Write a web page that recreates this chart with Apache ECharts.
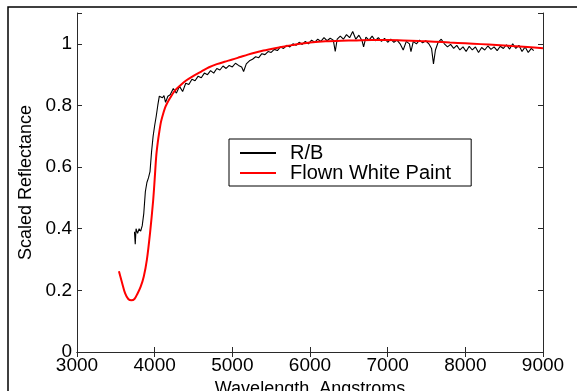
<!DOCTYPE html>
<html>
<head>
<meta charset="utf-8">
<script src="https://cdn.jsdelivr.net/npm/echarts@6/dist/echarts.min.js"></script>
<style>
  html, body { margin: 0; padding: 0; background: #fff; }
  #chart { width: 577px; height: 391px; }
</style>
</head>
<body>
<div id="chart"></div>
<script>
// R/B measured spectrum (noisy black trace)
var rbWave = [3740, 3750, 3760, 3780, 3800, 3820, 3840, 3860, 3880, 3900, 3920, 3940, 3960, 3980, 4000, 4020, 4040, 4060, 4080, 4100, 4120, 4140, 4170,
  4200, 4240, 4280, 4320, 4360, 4400, 4440, 4480, 4520, 4560, 4600, 4640, 4680, 4720, 4760, 4800, 4840, 4880, 4920, 4960, 5000, 5040, 5080, 5120, 5145, 5180,
  5220, 5260, 5300, 5340, 5380, 5420, 5460, 5500, 5540, 5580, 5620, 5660, 5700, 5740, 5780, 5820, 5860, 5900, 5940, 5980, 6020, 6060, 6100, 6140, 6180, 6220,
  6260, 6300, 6325, 6350, 6390, 6430, 6470, 6510, 6550, 6590, 6630, 6670, 6690, 6720, 6760, 6800, 6840, 6880, 6920, 6960, 7000, 7040, 7080, 7120, 7160, 7200,
  7240, 7280, 7300, 7330, 7370, 7410, 7450, 7490, 7530, 7565, 7590, 7615, 7650, 7690, 7730, 7770, 7810, 7850, 7890, 7930, 7970, 8010, 8050, 8090, 8130, 8170,
  8210, 8250, 8290, 8330, 8370, 8410, 8450, 8490, 8530, 8570, 8610, 8650, 8690, 8730, 8770, 8810, 8850, 8880];
var rbValue = [0.39, 0.35, 0.40, 0.385, 0.40, 0.392, 0.41, 0.45, 0.52, 0.55, 0.565, 0.585, 0.65, 0.70, 0.735, 0.765, 0.80, 0.83, 0.835, 0.825, 0.832, 0.81, 0.83,
  0.835, 0.855, 0.84, 0.862, 0.845, 0.872, 0.868, 0.885, 0.88, 0.895, 0.89, 0.905, 0.90, 0.913, 0.905, 0.92, 0.915, 0.928, 0.92, 0.93, 0.925, 0.937, 0.93, 0.925, 0.91, 0.935,
  0.945, 0.95, 0.958, 0.955, 0.968, 0.965, 0.975, 0.972, 0.982, 0.978, 0.99, 0.985, 0.995, 0.99, 1.0, 0.995, 1.005, 0.998, 1.008, 1.0, 1.012, 1.005, 1.015, 1.008, 1.02, 1.01,
  1.018, 1.012, 0.975, 1.015, 1.025, 1.015, 1.03, 1.02, 1.04, 1.015, 1.028, 1.01, 0.99, 1.022, 1.012, 1.025, 1.01, 1.02, 1.008, 1.018, 1.005, 1.015, 1.005, 1.012, 1.0, 0.98,
  1.008, 1.0, 0.975, 1.008, 1.0, 1.012, 1.003, 1.01, 1.0, 0.985, 0.935, 0.98, 1.005, 1.015, 1.0, 0.99, 0.998, 0.985, 0.995, 0.98, 0.99, 0.975, 0.992, 0.98, 0.99, 0.972,
  0.988, 0.98, 0.993, 0.982, 0.99, 0.978, 0.992, 0.985, 0.997, 0.983, 1.0, 0.985, 0.995, 0.975, 0.99, 0.972, 0.985, 0.978];

// Flown White Paint (smooth red curve)
var paintWave = [3540, 3580, 3620, 3660, 3700, 3740, 3780, 3820, 3860, 3900, 3940, 3980, 4000, 4020, 4040, 4060, 4080, 4100, 4130, 4160, 4200, 4260, 4330,
  4400, 4500, 4600, 4700, 4800, 4900, 5000, 5100, 5200, 5300, 5400, 5500, 5600, 5700, 5800, 5900, 6000, 6200, 6400, 6600, 6800, 7000, 7200, 7400, 7600,
  7800, 8000, 8200, 8400, 8600, 8800, 9000];
var paintValue = [0.262, 0.225, 0.19, 0.172, 0.168, 0.172, 0.19, 0.212, 0.245, 0.30, 0.385, 0.49, 0.56, 0.635, 0.68, 0.715, 0.745, 0.765, 0.79, 0.807, 0.825, 0.848, 0.865,
  0.88, 0.896, 0.91, 0.924, 0.934, 0.942, 0.949, 0.957, 0.965, 0.972, 0.978, 0.983, 0.988, 0.993, 0.997, 1.001, 1.004, 1.008, 1.01, 1.011, 1.012, 1.012, 1.011, 1.009, 1.007,
  1.004, 1.002, 0.999, 0.996, 0.993, 0.99, 0.986];

var xTicks = { min: 3000, max: 9000, step: 1000 };
var yTicks = { min: 0, max: 1.1, step: 0.2 };

function pairs(xs, ys) {
  var out = [];
  for (var i = 0; i < xs.length; i++) out.push([xs[i], ys[i]]);
  return out;
}

var font = '"Liberation Sans", Arial, Helvetica, sans-serif';
var axisColor = '#2a2a2a';

var chart = echarts.init(document.getElementById('chart'));

var option = {
  backgroundColor: '#fff',
  animation: false,
  textStyle: { fontFamily: font, color: '#000' },
  grid: { left: 77, right: 34, top: 13, bottom: 39, containLabel: false, outerBoundsMode: 'none' },
  graphic: [{
    type: 'rect',
    shape: { x: 8, y: 7, width: 700, height: 500 },
    style: { fill: 'none', stroke: '#000', lineWidth: 1.5 },
    silent: true
  }],
  legend: {
    orient: 'vertical',
    left: 229,
    top: 139,
    padding: [4, 20, 3, 11],
    itemGap: 0,
    itemWidth: 36,
    itemHeight: 2,
    icon: 'rect',
    backgroundColor: '#fff',
    borderColor: '#000',
    borderWidth: 1,
    borderRadius: 0,
    textStyle: { fontFamily: font, fontSize: 20, lineHeight: 19, color: '#000', padding: [0, 0, 0, 9] },
    data: ['R/B', 'Flown White Paint']
  },
  xAxis: [{
    type: 'value',
    position: 'bottom',
    min: xTicks.min, max: xTicks.max, interval: xTicks.step,
    name: 'Wavelength, Angstroms',
    nameLocation: 'middle',
    nameGap: 22,
    nameTextStyle: { fontFamily: font, fontSize: 18, color: '#000', verticalAlign: 'top' },
    axisLine: { show: true, lineStyle: { color: axisColor, width: 1 } },
    axisTick: { show: true, inside: true, length: 5, lineStyle: { color: axisColor } },
    axisLabel: {
      fontFamily: font, fontSize: 19, color: '#000', margin: 4,
      formatter: function (v) { return String(v); }
    },
    splitLine: { show: false }
  }, {
    type: 'value',
    position: 'top',
    min: xTicks.min, max: xTicks.max, interval: xTicks.step,
    axisLine: { show: true, lineStyle: { color: axisColor, width: 1 } },
    axisTick: { show: true, inside: true, length: 5, lineStyle: { color: axisColor } },
    axisLabel: { show: false },
    splitLine: { show: false }
  }],
  yAxis: [{
    type: 'value',
    position: 'left',
    min: yTicks.min, max: yTicks.max, interval: yTicks.step,
    name: 'Scaled Reflectance',
    nameLocation: 'middle',
    nameGap: 40,
    nameTextStyle: { fontFamily: font, fontSize: 18, color: '#000' },
    axisLine: { show: true, lineStyle: { color: axisColor, width: 1 } },
    axisTick: { show: true, inside: true, length: 5, lineStyle: { color: axisColor } },
    axisLabel: {
      fontFamily: font, fontSize: 19, color: '#000', margin: 5,
      formatter: function (v) { return v > 1.05 ? '' : String(Math.round(v * 10) / 10); }
    },
    splitLine: { show: false }
  }, {
    type: 'value',
    position: 'right',
    min: yTicks.min, max: yTicks.max, interval: yTicks.step,
    axisLine: { show: true, lineStyle: { color: axisColor, width: 1 } },
    axisTick: { show: true, inside: true, length: 5, lineStyle: { color: axisColor } },
    axisLabel: { show: false },
    splitLine: { show: false }
  }],
  series: [{
    name: 'R/B',
    type: 'line',
    data: pairs(rbWave, rbValue),
    symbol: 'none',
    color: '#000',
    lineStyle: { color: '#000', width: 1.1 },
    z: 2
  }, {
    name: 'Flown White Paint',
    type: 'line',
    data: pairs(paintWave, paintValue),
    symbol: 'none',
    smooth: 0.3,
    color: '#ff0000',
    lineStyle: { color: '#ff0000', width: 2 },
    z: 3
  }]
};

chart.setOption(option);
</script>
</body>
</html>
